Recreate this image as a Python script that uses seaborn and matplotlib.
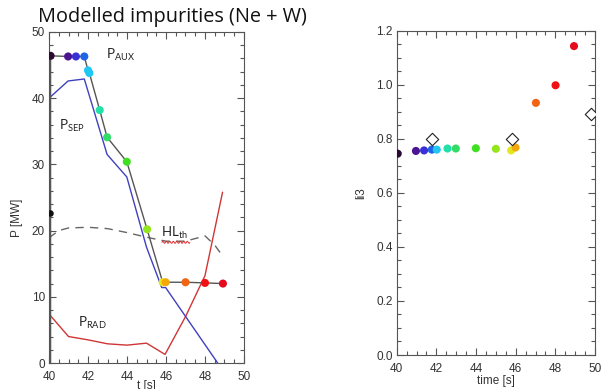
import numpy as np
import pandas as pd
import matplotlib
matplotlib.use("Agg")
import matplotlib.pyplot as plt
from matplotlib.ticker import MultipleLocator, FormatStrFormatter
from matplotlib.lines import Line2D
from matplotlib.transforms import IdentityTransform
import seaborn as sns

# ---- data -------------------------------------------------------------
# time base of the scan and the internal inductance li3
t_li3 = [40.05, 40.97, 41.38, 41.77, 42.02, 42.56, 42.98, 43.99, 45.0, 45.77, 45.99, 47.02, 48.01, 48.94]
li3 = [0.745, 0.755, 0.757, 0.760, 0.760, 0.764, 0.764, 0.765, 0.763, 0.757, 0.768, 0.933, 0.998, 1.143]

# experimental reference points (open diamonds)
t_exp = [41.8, 45.8, 49.8]
li3_exp = [0.80, 0.80, 0.892]

# auxiliary heating power
t_aux = [40.08, 40.98, 41.38, 41.81, 42.0, 42.07, 42.6, 42.98, 43.99, 45.03, 45.83, 45.98, 47.0, 48.0, 48.92]
p_aux = [46.4, 46.3, 46.3, 46.3, 44.2, 43.8, 38.2, 34.1, 30.4, 20.2, 12.2, 12.2, 12.2, 12.1, 12.0]

# power crossing the separatrix
t_sep = [40.0, 40.0, 40.98, 41.81, 42.98, 43.99, 45.0, 45.78, 45.98, 48.65]
p_sep = [0.0, 40.0, 42.6, 42.9, 31.5, 28.1, 17.5, 11.4, 11.4, 0.0]

# radiated power
t_rad = [40.0, 40.03, 41.0, 42.0, 43.0, 44.0, 45.0, 45.95, 47.0, 48.0, 48.9]
p_rad = [0.0, 7.3, 4.0, 3.5, 2.9, 2.7, 3.0, 1.3, 7.0, 13.2, 25.8]

# H-mode threshold
t_hl = [40.0, 40.5, 41.0, 42.0, 43.0, 44.0, 45.0, 46.0, 47.0, 47.5, 48.0, 48.5, 48.9]
p_hl = [18.9, 20.0, 20.4, 20.5, 20.3, 19.7, 19.0, 18.4, 18.4, 18.8, 19.2, 17.8, 16.2]

# extra marker on the left edge
t_mark = [40.05]
p_mark = [22.6]

# rainbow palette, one colour per time slice
slice_colors = ['#2a0a2e', '#4b1591', '#3b2fd6', '#1f63e6', '#1ec8f2', '#22e0a8',
                '#33dc66', '#3ee021', '#93e51c', '#e6e620', '#f4a90a', '#f06414',
                '#f01212', '#e60a1e']

# ---- style ------------------------------------------------------------
sns.set_theme(style="ticks")
plt.rcParams["font.family"] = ["Liberation Sans", "DejaVu Sans"]
plt.rcParams["mathtext.fontset"] = "custom"
plt.rcParams["mathtext.rm"] = "Lato"
plt.rcParams["mathtext.it"] = "Lato"

TICK_COL = "#333333"
SPINE_COL = "#555555"

fig = plt.figure(figsize=(6.05, 3.89), dpi=100)
axL = fig.add_axes([0.081, 0.0668, 0.3223, 0.851])
axR = fig.add_axes([0.6557, 0.0874, 0.3278, 0.8337])


def style_axis(ax, xmaj, xmin, ymaj, ymin):
    ax.xaxis.set_major_locator(MultipleLocator(xmaj))
    ax.xaxis.set_minor_locator(MultipleLocator(xmin))
    ax.yaxis.set_major_locator(MultipleLocator(ymaj))
    ax.yaxis.set_minor_locator(MultipleLocator(ymin))
    ax.tick_params(which="both", direction="in", bottom=True, left=True,
                   top=True, right=True, color=SPINE_COL, labelcolor=TICK_COL,
                   labelsize=8.5, width=0.8)
    ax.tick_params(which="major", length=5)
    ax.tick_params(which="minor", length=2.6)
    ax.tick_params(axis="x", which="major", pad=5.5)
    ax.tick_params(axis="y", which="major", pad=3)
    for s in ax.spines.values():
        s.set_visible(True)
        s.set_color(SPINE_COL)
        s.set_linewidth(0.8)


def color_for(t):
    idx = int(np.argmin(np.abs(np.asarray(t_li3) - t)))
    return slice_colors[idx]


# ---- left panel: power balance ---------------------------------------
df_sep = pd.DataFrame({"t": t_sep, "P": p_sep})
df_rad = pd.DataFrame({"t": t_rad, "P": p_rad})
df_hl = pd.DataFrame({"t": t_hl, "P": p_hl})
df_aux_line = pd.DataFrame({"t": [t_aux[0]] + t_aux, "P": [0.0] + p_aux})
df_aux = pd.DataFrame({"t": t_aux, "P": p_aux})

sns.lineplot(data=df_hl, x="t", y="P", ax=axL, sort=False, estimator=None,
             color="#666666", lw=1.0, linestyle=(0, (6, 4.5)))
sns.lineplot(data=df_rad, x="t", y="P", ax=axL, sort=False, estimator=None,
             color="#d03535", lw=1.0)
sns.lineplot(data=df_sep, x="t", y="P", ax=axL, sort=False, estimator=None,
             color="#4040c0", lw=1.0)
sns.lineplot(data=df_aux_line, x="t", y="P", ax=axL, sort=False, estimator=None,
             color="#555555", lw=1.0)
sns.scatterplot(data=df_aux, x="t", y="P", ax=axL, hue="t",
                palette=[color_for(t) for t in t_aux], s=34, linewidth=0,
                legend=False, zorder=5)
sns.scatterplot(x=t_mark, y=p_mark, ax=axL, color="#111111", s=22, linewidth=0,
                zorder=5)

axL.set_xlim(40, 50)
axL.set_ylim(0, 50)
style_axis(axL, 2, 0.5, 10, 2)
axL.set_xlabel("t [s]", fontsize=8.5, color=TICK_COL)
axL.set_ylabel("P [MW]", fontsize=8.5, color=TICK_COL)
axL.xaxis.set_label_coords(0.5, -0.05)
axL.yaxis.set_label_coords(-0.135, 0.44)

lab_kw = dict(fontsize=9.5, family="Lato", color="#222222", va="center", ha="left")
axL.text(42.92, 46.5, r"P$_{\mathrm{AUX}}$", **lab_kw)
axL.text(40.5, 35.8, r"P$_{\mathrm{SEP}}$", **lab_kw)
hl_txt = axL.text(45.74, 19.6, r"HL$_{\mathrm{th}}$", **lab_kw)
axL.text(41.5, 6.0, r"P$_{\mathrm{RAD}}$", **lab_kw)

fig.text(38 / 605, 1 - 17 / 389, "Modelled impurities (Ne + W)", family="Open Sans",
         fontsize=14.3, color="#111111", va="center", ha="left")

# ---- right panel: li3 -------------------------------------------------
df_li = pd.DataFrame({"t": t_li3, "li3": li3})
sns.scatterplot(data=df_li, x="t", y="li3", ax=axR, hue="t",
                palette=slice_colors, s=34, linewidth=0, legend=False, zorder=5)
sns.scatterplot(x=t_exp, y=li3_exp, ax=axR, marker="D", s=40,
                facecolor="white", edgecolor="#222222", linewidth=0.8, zorder=6)

axR.set_xlim(40, 50)
axR.set_ylim(0, 1.2)
style_axis(axR, 2, 0.5, 0.2, 0.05)
axR.yaxis.set_major_formatter(FormatStrFormatter("%.1f"))
axR.set_xlabel("time [s]", fontsize=8.5, color=TICK_COL)
axR.set_ylabel("li3", fontsize=8.5, color=TICK_COL)
axR.xaxis.set_label_coords(0.5, -0.062)
axR.yaxis.set_label_coords(-0.15, 0.5)

# red wavy proof-reading underline beneath the threshold label
renderer = fig.canvas.get_renderer()
bb = hl_txt.get_window_extent(renderer)
wx = np.linspace(bb.x0 + 1, bb.x1 + 2, 80)
wy = bb.y0 - 1.0 + 1.0 * np.sin((wx - wx[0]) * 2 * np.pi / 3.5)
fig.add_artist(Line2D(wx, wy, transform=IdentityTransform(), color="#e03030",
                      lw=0.7))

fig.savefig("out.png", dpi=100)
